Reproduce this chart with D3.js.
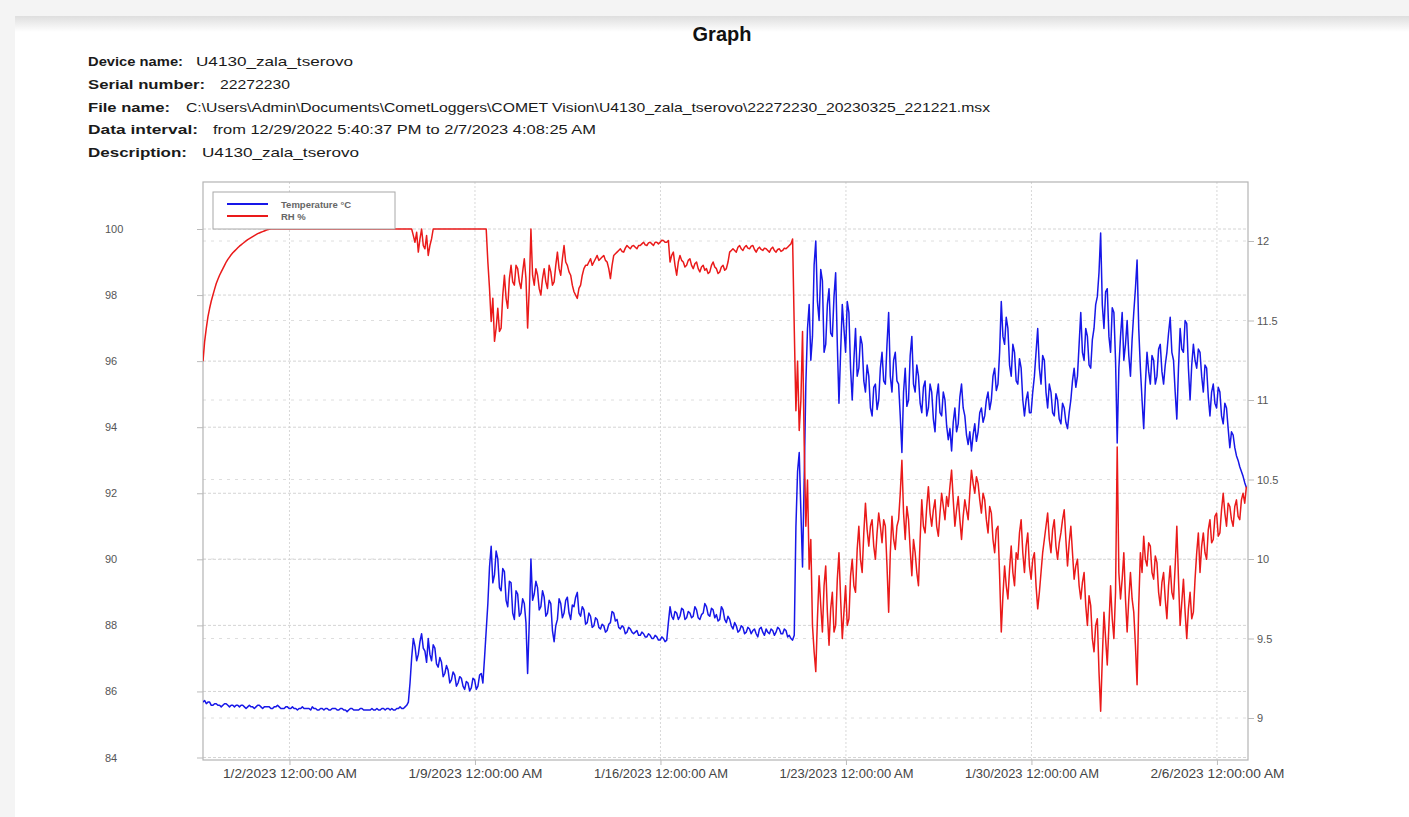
<!DOCTYPE html>
<html>
<head>
<meta charset="utf-8">
<title>Graph</title>
<script src="https://cdn.jsdelivr.net/npm/d3@7"></script>
<style>
  html, body { margin: 0; padding: 0; background: #f4f4f4; }
  svg { display: block; }
</style>
</head>
<body>
<svg id="chart" width="1409" height="817"></svg>
<script>
// Logger header
const headerLabels = ["Device name:", "Serial number:", "File name:", "Data interval:", "Description:"];
const headerValues = [
  "U4130_zala_tserovo",
  "22272230",
  "C:\\Users\\Admin\\Documents\\CometLoggers\\COMET Vision\\U4130_zala_tserovo\\22272230_20230325_221221.msx",
  "from 12/29/2022 5:40:37 PM to 2/7/2023 4:08:25 AM",
  "U4130_zala_tserovo"
];

// Series names
const seriesNames = ["Temperature \u00b0C", "RH %"];

// Recording window and sampling step (hours)
const startTime = new Date(2022, 11, 29, 17, 40, 37);
const endTime = new Date(2023, 1, 7, 4, 8, 25);
const stepHours = 1.5;

// Axis ticks
const rhTicks = [84, 86, 88, 90, 92, 94, 96, 98, 100];
const tempTicks = [9, 9.5, 10, 10.5, 11, 11.5, 12];
const dateTicks = [
  new Date(2023, 0, 2), new Date(2023, 0, 9), new Date(2023, 0, 16),
  new Date(2023, 0, 23), new Date(2023, 0, 30), new Date(2023, 1, 6)
];

// Temperature readings, °C (one every 1.5 h)
const temperature = [
  9.10, 9.11, 9.09, 9.10, 9.10, 9.08, 9.08, 9.09, 9.09, 9.08,
  9.08, 9.07, 9.08, 9.09, 9.09, 9.08, 9.07, 9.08, 9.08, 9.07,
  9.08, 9.08, 9.07, 9.08, 9.08, 9.07, 9.06, 9.07, 9.08, 9.07,
  9.07, 9.06, 9.07, 9.08, 9.08, 9.07, 9.06, 9.07, 9.07, 9.07,
  9.07, 9.06, 9.06, 9.07, 9.07, 9.08, 9.07, 9.06, 9.06, 9.06,
  9.07, 9.07, 9.06, 9.06, 9.07, 9.06, 9.06, 9.05, 9.06, 9.06,
  9.07, 9.06, 9.06, 9.06, 9.06, 9.05, 9.07, 9.06, 9.06, 9.05,
  9.05, 9.06, 9.06, 9.05, 9.06, 9.06, 9.05, 9.05, 9.06, 9.06,
  9.06, 9.05, 9.05, 9.06, 9.06, 9.05, 9.05, 9.04, 9.05, 9.06,
  9.06, 9.05, 9.05, 9.05, 9.05, 9.06, 9.06, 9.05, 9.05, 9.05,
  9.05, 9.05, 9.06, 9.05, 9.05, 9.06, 9.05, 9.05, 9.06, 9.06,
  9.05, 9.06, 9.06, 9.05, 9.06, 9.05, 9.05, 9.06, 9.06, 9.07,
  9.06, 9.06, 9.07, 9.08, 9.10, 9.22, 9.38, 9.50, 9.45, 9.36,
  9.40, 9.48, 9.53, 9.44, 9.42, 9.35, 9.50, 9.40, 9.36, 9.46,
  9.44, 9.34, 9.32, 9.38, 9.35, 9.26, 9.28, 9.33, 9.30, 9.22,
  9.24, 9.29, 9.27, 9.20, 9.22, 9.26, 9.25, 9.20, 9.18, 9.23,
  9.22, 9.17, 9.19, 9.25, 9.24, 9.18, 9.20, 9.27, 9.28, 9.22,
  9.38, 9.55, 9.72, 9.95, 10.08, 9.85, 9.90, 10.05, 10.00, 9.82,
  9.80, 9.94, 9.92, 9.74, 9.70, 9.86, 9.85, 9.66, 9.62, 9.80,
  9.78, 9.64, 9.66, 9.75, 9.72, 9.60, 9.28, 9.60, 10.00, 9.74,
  9.78, 9.86, 9.82, 9.68, 9.70, 9.80, 9.76, 9.64, 9.66, 9.74,
  9.72, 9.55, 9.48, 9.58, 9.62, 9.75, 9.72, 9.63, 9.66, 9.74,
  9.76, 9.66, 9.62, 9.71, 9.70, 9.76, 9.79, 9.66, 9.64, 9.70,
  9.68, 9.59, 9.60, 9.66, 9.64, 9.57, 9.58, 9.63, 9.62, 9.57,
  9.56, 9.59, 9.58, 9.54, 9.55, 9.59, 9.60, 9.67, 9.66, 9.61,
  9.62, 9.57, 9.56, 9.58, 9.57, 9.53, 9.54, 9.57, 9.56, 9.54,
  9.53, 9.54, 9.55, 9.52, 9.52, 9.54, 9.53, 9.51, 9.51, 9.53,
  9.52, 9.50, 9.50, 9.52, 9.51, 9.49, 9.49, 9.51, 9.50, 9.48,
  9.49, 9.60, 9.70, 9.64, 9.62, 9.67, 9.66, 9.62, 9.64, 9.69,
  9.68, 9.62, 9.63, 9.67, 9.66, 9.63, 9.64, 9.70, 9.68, 9.63,
  9.62, 9.65, 9.66, 9.72, 9.70, 9.65, 9.64, 9.69, 9.68, 9.63,
  9.65, 9.61, 9.62, 9.70, 9.68, 9.62, 9.60, 9.64, 9.62, 9.58,
  9.56, 9.60, 9.58, 9.54, 9.55, 9.58, 9.57, 9.53, 9.54, 9.57,
  9.56, 9.53, 9.55, 9.56, 9.53, 9.51, 9.56, 9.57, 9.54, 9.52,
  9.56, 9.54, 9.53, 9.56, 9.55, 9.52, 9.54, 9.57, 9.56, 9.53,
  9.53, 9.56, 9.55, 9.51, 9.52, 9.50, 9.49, 9.52, 10.20, 10.55,
  10.67, 10.30, 9.95, 10.50, 11.10, 11.45, 11.60, 11.25, 11.40, 11.85,
  12.00, 11.62, 11.50, 11.82, 11.75, 11.30, 11.35, 11.60, 11.70, 11.42,
  11.40, 11.65, 11.80, 11.35, 10.98, 11.30, 11.60, 11.45, 11.30, 11.62,
  11.55, 11.20, 11.00, 11.25, 11.45, 11.15, 11.20, 11.40, 11.35, 11.12,
  11.05, 11.22, 11.15, 10.95, 10.90, 11.08, 11.10, 10.94, 11.00, 11.20,
  11.30, 11.12, 11.10, 11.35, 11.55, 11.15, 11.05, 11.25, 11.30, 11.12,
  11.10, 10.90, 10.67, 11.05, 11.20, 10.96, 11.00, 11.28, 11.40, 11.10,
  11.05, 11.22, 11.15, 10.98, 10.92, 11.08, 11.12, 10.90, 10.95, 11.10,
  11.05, 10.88, 10.80, 11.02, 11.10, 10.92, 10.90, 11.05, 11.00, 10.84,
  10.75, 10.82, 10.68, 10.86, 10.95, 10.80, 10.85, 11.02, 11.10, 10.95,
  10.90, 10.78, 10.72, 10.80, 10.68, 10.78, 10.85, 10.74, 10.80, 10.92,
  10.95, 10.86, 10.90, 11.00, 11.05, 10.94, 11.00, 11.15, 11.20, 11.06,
  11.10, 11.30, 11.62, 11.40, 11.35, 11.52, 11.45, 11.22, 11.15, 11.35,
  11.30, 11.12, 11.10, 11.26, 11.20, 11.00, 10.90, 11.00, 11.05, 10.92,
  10.92, 11.05, 11.15, 11.30, 11.45, 11.20, 11.10, 11.28, 11.25, 11.05,
  10.95, 11.10, 11.05, 10.92, 10.90, 11.04, 11.00, 10.88, 10.85, 10.98,
  10.95, 10.86, 10.82, 10.92, 11.00, 11.12, 11.20, 11.08, 11.15, 11.35,
  11.55, 11.30, 11.25, 11.45, 11.40, 11.22, 11.20, 11.38, 11.45, 11.60,
  11.65, 11.80, 12.05, 11.60, 11.45, 11.68, 11.70, 11.40, 11.30, 11.58,
  11.55, 11.25, 10.73, 11.20, 11.40, 11.55, 11.25, 11.35, 11.50, 11.28,
  11.15, 11.38, 11.55, 11.70, 11.88, 11.45, 11.20, 11.00, 10.82, 11.10,
  11.30, 11.18, 11.10, 11.28, 11.25, 11.10, 11.15, 11.32, 11.35, 11.18,
  11.10, 11.22, 11.30, 11.42, 11.52, 11.30, 11.25, 11.05, 10.88, 11.20,
  11.45, 11.32, 11.30, 11.50, 11.48, 11.20, 11.00, 11.22, 11.35, 11.25,
  11.20, 11.32, 11.30, 11.15, 11.05, 11.22, 11.20, 11.02, 10.90, 11.05,
  11.10, 10.98, 10.95, 11.08, 11.05, 10.90, 10.85, 10.98, 10.95, 10.82,
  10.70, 10.80, 10.78, 10.70, 10.65, 10.62, 10.58, 10.55, 10.52, 10.48,
  10.45
];

// Relative humidity readings, % (one every 1.5 h)
const humidity = [
  96.0, 96.6, 97.0, 97.35, 97.6, 97.82, 98.0, 98.18, 98.35, 98.48,
  98.6, 98.7, 98.8, 98.9, 99.0, 99.08, 99.15, 99.22, 99.28, 99.33,
  99.38, 99.43, 99.48, 99.52, 99.56, 99.6, 99.64, 99.68, 99.71, 99.74,
  99.77, 99.8, 99.83, 99.86, 99.88, 99.9, 99.92, 99.94, 99.96, 99.98,
  99.99, 100, 100, 100, 100, 100, 100, 100, 100, 100,
  100, 100, 100, 100, 100, 100, 100, 100, 100, 100,
  100, 100, 100, 100, 100, 100, 100, 100, 100, 100,
  100, 100, 100, 100, 100, 100, 100, 100, 100, 100,
  100, 100, 100, 100, 100, 100, 100, 100, 100, 100,
  100, 100, 100, 100, 100, 100, 100, 100, 100, 100,
  100, 100, 100, 100, 100, 100, 100, 100, 100, 100,
  100, 100, 100, 100, 100, 100, 100, 100, 100, 100,
  100, 100, 100, 100, 100, 100, 100, 99.8, 99.6, 99.9,
  99.3, 99.7, 100, 99.5, 99.4, 99.8, 99.2, 99.5, 99.7, 100,
  100, 100, 100, 100, 100, 100, 100, 100, 100, 100,
  100, 100, 100, 100, 100, 100, 100, 100, 100, 100,
  100, 100, 100, 100, 100, 100, 100, 100, 100, 100,
  100, 100, 99.0, 98.2, 97.2, 97.9, 96.6, 97.0, 97.6, 96.9,
  97.0, 98.0, 98.6, 97.9, 97.6, 98.5, 98.9, 98.4, 98.3, 98.9,
  98.8, 98.4, 98.2, 98.7, 99.1, 98.5, 97.0, 98.2, 100, 98.6,
  98.3, 98.8, 98.6, 98.2, 98.0, 98.5, 98.8, 98.4, 98.2, 98.9,
  98.7, 98.3, 98.4, 98.9, 99.3, 98.8, 98.6, 99.1, 99.5, 99.0,
  98.9, 98.7, 98.6, 98.3, 98.1, 98.0, 97.9, 98.2, 98.3, 98.6,
  98.8, 98.9, 98.9, 99.0, 99.1, 98.9, 99.0, 99.1, 99.2, 99.05,
  99.1, 99.15, 99.2, 99.05, 99.0, 98.8, 98.5, 98.9, 99.2, 99.25,
  99.3, 99.35, 99.4, 99.32, 99.3, 99.42, 99.5, 99.45, 99.4, 99.48,
  99.5, 99.45, 99.4, 99.5, 99.5, 99.55, 99.6, 99.52, 99.5, 99.58,
  99.6, 99.55, 99.5, 99.6, 99.6, 99.55, 99.6, 99.66, 99.65, 99.6,
  99.6, 99.65, 99.0, 99.2, 99.3, 98.9, 98.6, 99.0, 99.2, 99.05,
  99.0, 98.85, 98.9, 99.05, 99.1, 98.9, 98.8, 98.95, 99.0, 98.8,
  98.7, 98.85, 98.9, 98.75, 98.8, 98.65, 98.7, 98.9, 99.0, 98.85,
  98.8, 98.65, 98.7, 98.85, 98.9, 98.75, 98.8, 99.0, 99.3, 99.35,
  99.4, 99.35, 99.3, 99.45, 99.5, 99.4, 99.35, 99.45, 99.5, 99.42,
  99.4, 99.48, 99.5, 99.38, 99.3, 99.4, 99.45, 99.38, 99.35, 99.42,
  99.4, 99.35, 99.3, 99.4, 99.45, 99.35, 99.3, 99.38, 99.4, 99.32,
  99.35, 99.42, 99.4, 99.45, 99.5, 99.55, 99.7, 97.0, 94.5, 96.0,
  93.9, 94.8, 96.9, 93.5, 91.0, 92.4, 89.7, 90.6, 88.0, 87.2,
  86.6, 88.2, 89.5, 88.6, 87.8, 89.2, 89.8, 88.4, 87.4, 88.5,
  89.0, 87.8, 88.0, 89.4, 90.2, 88.8, 87.6, 88.4, 89.2, 88.0,
  88.2, 89.5, 90.0, 89.2, 89.0, 90.3, 91.0, 90.0, 89.6, 90.8,
  91.7, 90.9, 90.4, 91.0, 91.2, 90.4, 90.0, 90.8, 91.4, 91.0,
  90.5, 91.2, 91.0, 89.8, 88.4, 90.2, 91.3, 90.6, 90.3, 91.0,
  91.2, 92.0, 93.0, 91.4, 90.6, 91.6, 91.2, 90.3, 89.5, 90.6,
  90.2, 89.6, 89.2, 90.6, 91.8, 91.0, 90.8, 91.6, 92.2, 91.4,
  91.0, 91.5, 91.8, 91.0, 90.7, 91.4, 92.0, 91.6, 91.2, 91.9,
  91.6, 92.2, 92.7, 91.8, 91.0, 91.5, 91.9, 91.2, 90.6, 91.3,
  91.8, 91.5, 91.2, 92.0, 92.7, 92.3, 92.0, 92.5, 92.3, 91.8,
  91.4, 92.0, 91.8, 91.2, 90.8, 91.6, 91.4, 90.6, 90.2, 90.9,
  91.0, 89.5, 87.8, 88.9, 89.8, 89.2, 88.8, 89.7, 90.4, 89.6,
  89.2, 90.2, 90.0, 90.8, 91.2, 90.2, 89.6, 90.4, 90.8, 89.8,
  89.4, 90.0, 90.2, 89.2, 88.5, 89.0, 89.6, 90.2, 90.6, 91.0,
  91.4, 90.6, 90.2, 90.9, 91.2, 90.4, 90.0, 90.5, 90.8, 91.2,
  91.5, 90.6, 89.8, 90.5, 91.0, 90.2, 89.4, 89.8, 90.0, 89.2,
  88.8, 89.3, 89.6, 88.6, 88.0, 88.9, 88.6, 87.6, 87.2, 88.0,
  88.2, 86.6, 85.4, 87.0, 88.4, 87.6, 86.8, 88.0, 89.2, 88.2,
  87.6, 89.0, 93.4, 89.6, 88.8, 89.4, 90.2, 88.8, 87.8, 88.8,
  89.6, 88.8, 88.4, 87.4, 86.2, 88.6, 90.2, 89.6, 90.7, 90.0,
  89.8, 90.5, 90.4, 89.6, 89.4, 90.1, 89.9, 89.0, 88.6, 89.3,
  89.6, 88.8, 88.2, 89.2, 89.8, 89.0, 88.8, 89.8, 91.0, 89.4,
  88.0, 88.7, 89.4, 88.4, 87.6, 88.5, 89.0, 88.2, 88.4, 89.4,
  90.2, 90.8, 89.6, 90.4, 90.8, 90.2, 90.0, 90.9, 91.2, 90.5,
  90.6, 91.3, 91.4, 90.7, 90.8, 91.5, 92.0, 91.4, 91.0, 91.7,
  91.6, 91.2, 91.0, 91.6, 91.8, 91.3, 91.2, 91.8, 92.0, 91.7,
  92.2
];

const seriesColors = ["#1717e8", "#ea1a1a"];

const svg = d3.select("#chart");

// page panel with a soft shadow along its upper edge
const defs = svg.append("defs");
const shade = defs.append("linearGradient").attr("id", "topShade")
  .attr("x1", 0).attr("y1", 0).attr("x2", 0).attr("y2", 1);
shade.append("stop").attr("offset", 0).attr("stop-color", "#dedede");
shade.append("stop").attr("offset", 1).attr("stop-color", "#ffffff");
svg.append("rect").attr("x", 15).attr("y", 16).attr("width", 1394).attr("height", 801).attr("fill", "#ffffff");
svg.append("rect").attr("x", 15).attr("y", 16).attr("width", 1394).attr("height", 16).attr("fill", "url(#topShade)");

// Title
svg.append("text")
  .attr("x", 722).attr("y", 41)
  .attr("text-anchor", "middle")
  .attr("font-family", "'Liberation Sans', Arial, sans-serif")
  .attr("font-weight", "bold").attr("font-size", 20)
  .attr("fill", "#111")
  .text("Graph");

// Header block
const labelWidths = [95, 117, 82, 110, 99];
const valueX = [196, 220, 186, 213, 202];
const valueWidths = [157, 70, 804, 383, 157];
const header = svg.append("g")
  .attr("font-family", "'Liberation Sans', Arial, sans-serif")
  .attr("font-size", 13).attr("fill", "#1a1a1a");
headerLabels.forEach((lab, i) => {
  const y = 66 + i * 22.8;
  header.append("text").attr("x", 88).attr("y", y)
    .attr("font-weight", "bold")
    .attr("textLength", labelWidths[i]).attr("lengthAdjust", "spacingAndGlyphs")
    .text(lab);
  header.append("text").attr("x", valueX[i]).attr("y", y)
    .attr("textLength", valueWidths[i]).attr("lengthAdjust", "spacingAndGlyphs")
    .text(headerValues[i]);
});

// Plot geometry
const plot = { left: 203, right: 1248, top: 182, bottom: 760 };

const x = d3.scaleTime().domain([startTime, endTime]).range([plot.left, plot.right]);
const yRH = d3.scaleLinear().domain([84, 100]).range([757.5, 229]);
const yT = d3.scaleLinear().domain([9, 12]).range([718, 241]);

const times = temperature.map((_, i) => d3.timeMinute.offset(startTime, i * stepHours * 60));

// grid
const grid = svg.append("g").attr("fill", "none");
grid.selectAll(".gx").data(dateTicks).join("line")
  .attr("x1", d => x(d)).attr("x2", d => x(d))
  .attr("y1", plot.top).attr("y2", plot.bottom)
  .attr("stroke", "#d8d8d8").attr("stroke-dasharray", "2,2");
grid.selectAll(".gl").data(rhTicks).join("line")
  .attr("x1", plot.left).attr("x2", plot.right)
  .attr("y1", d => yRH(d)).attr("y2", d => yRH(d))
  .attr("stroke", "#d4d4d4").attr("stroke-dasharray", "3,2");
grid.selectAll(".gr").data(tempTicks).join("line")
  .attr("x1", plot.left).attr("x2", plot.right)
  .attr("y1", d => yT(d)).attr("y2", d => yT(d))
  .attr("stroke", "#dedede").attr("stroke-dasharray", "3,5");

// plot frame
svg.append("rect")
  .attr("x", plot.left).attr("y", plot.top)
  .attr("width", plot.right - plot.left).attr("height", plot.bottom - plot.top)
  .attr("fill", "none").attr("stroke", "#b4b4b4").attr("stroke-width", 1.2);

// axes
const tickFont = "'Liberation Sans', Arial, sans-serif";
const axL = svg.append("g").attr("transform", `translate(${plot.left},0)`)
  .call(d3.axisLeft(yRH).tickValues(rhTicks).tickSize(6).tickPadding(4).tickFormat(d3.format("d")));
axL.select(".domain").remove();
axL.selectAll("line").attr("stroke", "#bbb");
axL.selectAll("text").attr("text-anchor", "start").attr("x", 105 - plot.left)
  .attr("font-family", tickFont).attr("font-size", 11).attr("fill", "#555");

const axR = svg.append("g").attr("transform", `translate(${plot.right},0)`)
  .call(d3.axisRight(yT).tickValues(tempTicks).tickSize(6).tickPadding(3).tickFormat(d => String(d)));
axR.select(".domain").remove();
axR.selectAll("line").attr("stroke", "#bbb");
axR.selectAll("text").attr("x", 9)
  .attr("font-family", tickFont).attr("font-size", 11).attr("fill", "#555");

const axB = svg.append("g").attr("transform", `translate(0,${plot.bottom})`)
  .call(d3.axisBottom(x).tickValues(dateTicks).tickSize(5).tickPadding(4)
    .tickFormat(d3.timeFormat("%-m/%-d/%Y %-I:%M:%S %p")));
axB.select(".domain").remove();
axB.selectAll("line").attr("stroke", "#bbb");
axB.selectAll("text").attr("font-family", tickFont).attr("font-size", 12.5).attr("fill", "#444")
  .attr("textLength", 134).attr("lengthAdjust", "spacingAndGlyphs");

// series
defs.append("clipPath").attr("id", "plotClip").append("rect")
  .attr("x", plot.left).attr("y", plot.top)
  .attr("width", plot.right - plot.left).attr("height", plot.bottom - plot.top);

const lines = svg.append("g").attr("clip-path", "url(#plotClip)").attr("fill", "none");
const lineT = d3.line().x((d, i) => x(times[i])).y(d => yT(d));
const lineRH = d3.line().x((d, i) => x(times[i])).y(d => yRH(d));
lines.append("path").datum(temperature).attr("d", lineT)
  .attr("stroke", seriesColors[0]).attr("stroke-width", 1.5).attr("stroke-linejoin", "round");
lines.append("path").datum(humidity).attr("d", lineRH)
  .attr("stroke", seriesColors[1]).attr("stroke-width", 1.5).attr("stroke-linejoin", "round");

// legend
const legend = svg.append("g").attr("transform", "translate(213,192)");
legend.append("rect").attr("width", 182).attr("height", 37)
  .attr("fill", "#fff").attr("stroke", "#a8a8a8");
seriesNames.forEach((name, i) => {
  const y = 12 + i * 12;
  legend.append("line").attr("x1", 14).attr("x2", 55).attr("y1", y).attr("y2", y)
    .attr("stroke", seriesColors[i]).attr("stroke-width", 2);
  legend.append("text").attr("x", 68).attr("y", y + 3.5)
    .attr("font-family", tickFont).attr("font-weight", "bold").attr("font-size", 9.5)
    .attr("fill", "#666").text(name);
});
</script>
</body>
</html>
